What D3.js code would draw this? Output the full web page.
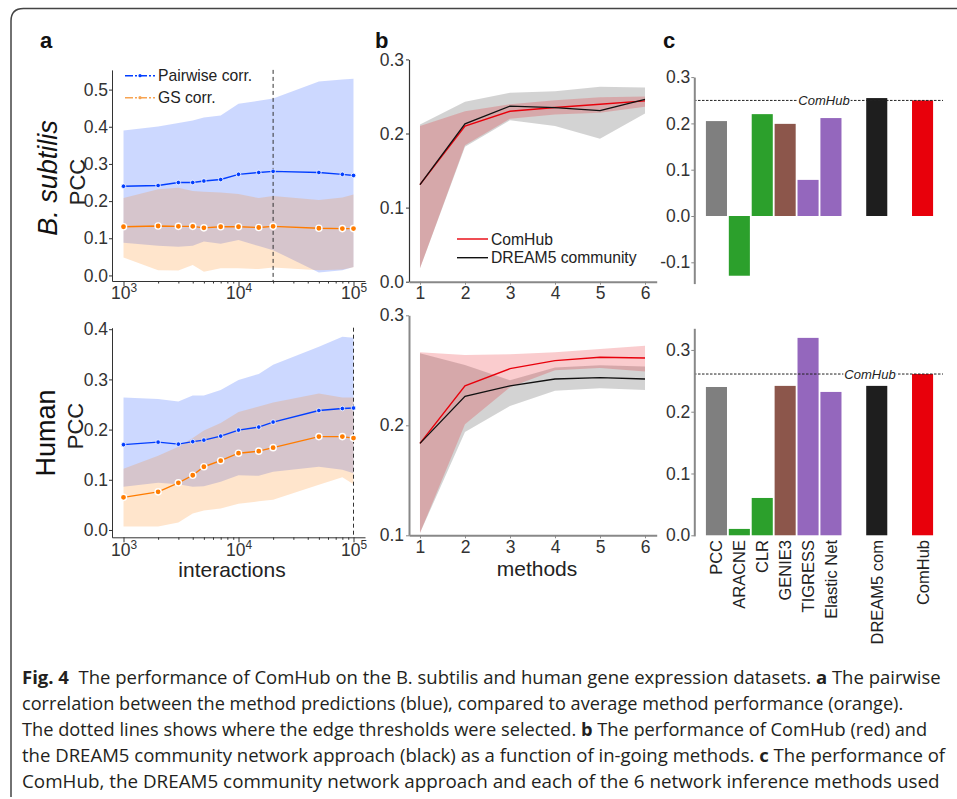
<!DOCTYPE html>
<html>
<head>
<meta charset="utf-8">
<script src="https://cdn.jsdelivr.net/npm/d3@7"></script>
<style>
  body { margin: 0; background: #fff; }
  svg { display: block; font-family: "Liberation Sans", Arial, sans-serif; }
  .tick text { fill: #333; font-size: 17.5px; }
</style>
</head>
<body>
<svg width="957" height="799"></svg>
<script>
// ---- panel a: interactions on a log axis ----
const interactions = [1000, 2000, 3000, 4000, 5000, 7000, 10000, 15000, 20000, 50000, 80000, 100000];

const bsPairwise   = [0.240, 0.242, 0.250, 0.250, 0.254, 0.258, 0.272, 0.277, 0.280, 0.277, 0.272, 0.269];
const bsPairwiseHi = [0.390, 0.401, 0.410, 0.417, 0.425, 0.430, 0.462, 0.470, 0.476, 0.522, 0.527, 0.529];
const bsPairwiseLo = [0.088, 0.080, 0.077, 0.080, 0.091, 0.085, 0.095, 0.079, 0.068, 0.008, 0.014, 0.023];
const bsGS   = [0.131, 0.133, 0.132, 0.132, 0.128, 0.131, 0.131, 0.129, 0.132, 0.127, 0.126, 0.126];
const bsGSHi = [0.208, 0.232, 0.236, 0.227, 0.225, 0.223, 0.219, 0.208, 0.214, 0.203, 0.210, 0.218];
const bsGSLo = [0.048, 0.014, 0.013, 0.028, 0.010, 0.019, 0.019, 0.017, 0.021, 0.014, 0.016, 0.022];

const huPairwise   = [0.170, 0.175, 0.171, 0.176, 0.179, 0.187, 0.199, 0.205, 0.215, 0.238, 0.242, 0.243];
const huPairwiseHi = [0.264, 0.261, 0.256, 0.268, 0.268, 0.279, 0.299, 0.311, 0.329, 0.365, 0.385, 0.383];
const huPairwiseLo = [0.086, 0.094, 0.091, 0.086, 0.087, 0.096, 0.109, 0.108, 0.116, 0.126, 0.120, 0.113];
const huGS   = [0.065, 0.076, 0.094, 0.109, 0.126, 0.138, 0.153, 0.157, 0.164, 0.186, 0.186, 0.183];
const huGSHi = [0.122, 0.148, 0.166, 0.183, 0.198, 0.213, 0.235, 0.246, 0.254, 0.272, 0.264, 0.264];
const huGSLo = [0.007, 0.007, 0.015, 0.033, 0.039, 0.043, 0.052, 0.057, 0.060, 0.090, 0.105, 0.091];

// ---- panel b: number of methods ----
const nMethods = [1, 2, 3, 4, 5, 6];

const bsComHub   = [0.131, 0.210, 0.230, 0.235, 0.2395, 0.244];
const bsComHubHi = [0.210, 0.230, 0.2395, 0.245, 0.249, 0.250];
const bsComHubLo = [0.018, 0.184, 0.220, 0.2255, 0.228, 0.236];
const bsDream   = [0.131, 0.213, 0.237, 0.235, 0.231, 0.246];
const bsDreamHi = [0.212, 0.243, 0.255, 0.257, 0.263, 0.262];
const bsDreamLo = [0.018, 0.182, 0.218, 0.210, 0.193, 0.227];

const huComHub   = [0.1836, 0.2358, 0.2515, 0.2588, 0.2618, 0.2612];
const huComHubHi = [0.2664, 0.2640, 0.2645, 0.2664, 0.2694, 0.2724];
const huComHubLo = [0.102, 0.201, 0.2345, 0.250, 0.252, 0.249];
const huDream   = [0.1836, 0.2264, 0.2358, 0.2421, 0.2433, 0.2421];
const huDreamHi = [0.2655, 0.2548, 0.241, 0.2525, 0.2545, 0.2535];
const huDreamLo = [0.102, 0.194, 0.2176, 0.2315, 0.2336, 0.232];

// ---- panel c: single methods ----
const methodNames = ["PCC", "ARACNE", "CLR", "GENIE3", "TIGRESS", "Elastic Net", "DREAM5 com", "ComHub"];
const methodSlots = [0, 1, 2, 3, 4, 5, 7, 9];
const methodColors = ["#7f7f7f", "#2ca02c", "#2ca02c", "#8c564b", "#9467bd", "#9467bd", "#1e1e1e", "#e8000b"];
const bsScores = [0.205, -0.129, 0.220, 0.199, 0.078, 0.2115, 0.2547, 0.2496];
const huScores = [0.240, 0.0103, 0.0604, 0.2418, 0.3195, 0.232, 0.2418, 0.261];

const blue = "#023eff", orange = "#ff7c00", red = "#e8000b";
const svg = d3.select("svg");
const fmt = d => d3.format(".1f")(d).replace("\u2212", "-");

// figure frame
svg.append("path")
  .attr("d", "M11,797 L11,21 Q11,8.5 23.5,8.5 L957,8.5")
  .attr("fill", "none").attr("stroke", "#444").attr("stroke-width", 1.5);

// panel letters
[["a", 40], ["b", 375], ["c", 663]].forEach(([t, x]) => {
  svg.append("text").attr("x", x).attr("y", 48).text(t)
    .attr("font-size", 22).attr("font-weight", "bold").attr("fill", "#111");
});

function styleAxis(g, color, width) {
  g.select(".domain").attr("stroke", color).attr("stroke-width", width);
  g.selectAll(".tick line").attr("stroke", color);
}

// ================= panel a =================
const xA = d3.scaleLog().domain([Math.pow(10, 2.9), Math.pow(10, 5.1)]).range([112, 365]);
const minorA = [2, 3, 4, 5, 6, 7, 8, 9].flatMap(m => [m * 1e3, m * 1e4]);

function drawPanelA(o) {
  const g = svg.append("g");
  const y = o.y;
  const rows = (mid, lo, hi) => interactions.map((x, i) => ({ x: x, v: mid[i], lo: lo[i], hi: hi[i] }));
  const pair = rows(o.pair, o.pairLo, o.pairHi);
  const gs = rows(o.gs, o.gsLo, o.gsHi);
  const area = d3.area().x(d => xA(d.x)).y0(d => y(d.lo)).y1(d => y(d.hi));
  const line = d3.line().x(d => xA(d.x)).y(d => y(d.v));

  g.append("path").attr("d", area(pair)).attr("fill", blue).attr("fill-opacity", 0.2);
  g.append("path").attr("d", area(gs)).attr("fill", orange).attr("fill-opacity", 0.2);

  g.append("line")
    .attr("x1", xA(o.threshold)).attr("x2", xA(o.threshold))
    .attr("y1", y.range()[1]).attr("y2", y.range()[0])
    .attr("stroke", "#333").attr("stroke-width", 1).attr("stroke-dasharray", "4,3");

  g.append("path").attr("d", line(pair)).attr("fill", "none").attr("stroke", blue).attr("stroke-width", 1.4);
  g.append("path").attr("d", line(gs)).attr("fill", "none").attr("stroke", orange).attr("stroke-width", 1.4);

  g.selectAll(".pdot").data(pair).enter().append("circle")
    .attr("cx", d => xA(d.x)).attr("cy", d => y(d.v)).attr("r", 2.3)
    .attr("fill", blue).attr("stroke", "#fff").attr("stroke-width", 0.8);
  g.selectAll(".gdot").data(gs).enter().append("circle")
    .attr("cx", d => xA(d.x)).attr("cy", d => y(d.v)).attr("r", 3.1)
    .attr("fill", orange).attr("stroke", "#fff").attr("stroke-width", 1.4);

  const yAxis = g.append("g").attr("transform", "translate(112,0)")
    .call(d3.axisLeft(y).tickValues(o.ticks).tickFormat(fmt).tickSize(3).tickPadding(1).tickSizeOuter(0));
  styleAxis(yAxis, "#333", 1);

  const base = y.range()[0];
  const xAxis = g.append("g").attr("transform", `translate(0,${base})`)
    .call(d3.axisBottom(xA).tickValues([1e3, 1e4, 1e5]).tickSize(5).tickPadding(1).tickSizeOuter(0).tickFormat(() => "10"));
  xAxis.selectAll(".tick text").append("tspan")
    .text(d => Math.round(Math.log10(d))).attr("dy", "-0.6em").attr("font-size", "0.68em");
  styleAxis(xAxis, "#333", 1);
  const minor = g.append("g").attr("transform", `translate(0,${base})`)
    .call(d3.axisBottom(xA).tickValues(minorA).tickSize(2.5).tickFormat(""));
  minor.select(".domain").remove();
  minor.selectAll(".tick line").attr("stroke", "#333");

  g.append("text").attr("transform", `translate(${o.nameX},${o.nameY}) rotate(-90)`)
    .attr("text-anchor", "middle").attr("font-size", 27).attr("font-style", o.italic ? "italic" : "normal")
    .attr("fill", "#111").text(o.name);
  g.append("text").attr("transform", `translate(${o.pccX},${o.pccY}) rotate(-90)`)
    .attr("text-anchor", "middle").attr("font-size", 22).attr("fill", "#222").text("PCC");
}

drawPanelA({
  y: d3.scaleLinear().domain([-0.015, 0.553]).range([281, 69.9]),
  ticks: [0, 0.1, 0.2, 0.3, 0.4, 0.5],
  pair: bsPairwise, pairLo: bsPairwiseLo, pairHi: bsPairwiseHi,
  gs: bsGS, gsLo: bsGSLo, gsHi: bsGSHi,
  threshold: 20000,
  name: "B. subtilis", italic: true, nameX: 57, nameY: 178, pccX: 85, pccY: 182
});
drawPanelA({
  y: d3.scaleLinear().domain([-0.0146, 0.403]).range([537.3, 327.7]),
  ticks: [0, 0.1, 0.2, 0.3, 0.4],
  pair: huPairwise, pairLo: huPairwiseLo, pairHi: huPairwiseHi,
  gs: huGS, gsLo: huGSLo, gsHi: huGSHi,
  threshold: 100000,
  name: "Human", italic: false, nameX: 55, nameY: 433, pccX: 83, pccY: 426
});

// legend a
[["Pairwise corr.", blue, 75.7], ["GS corr.", "#f7a452", 97.7]].forEach(([t, c, ly]) => {
  svg.append("line").attr("x1", 125).attr("x2", 155).attr("y1", ly).attr("y2", ly)
    .attr("stroke", c).attr("stroke-width", 1.4).attr("stroke-dasharray", "8,2,2,2");
  svg.append("circle").attr("cx", 140).attr("cy", ly).attr("r", 1.6).attr("fill", c);
  svg.append("text").attr("x", 158).attr("y", ly + 5.5).attr("font-size", 15.7).attr("fill", "#222").text(t);
});

svg.append("text").attr("x", 232).attr("y", 577).attr("text-anchor", "middle")
  .attr("font-size", 21).attr("fill", "#222").text("interactions");

// ================= panel b =================
const xB = d3.scaleLinear().domain([0.756, 6.26]).range([409, 656.7]);

function drawPanelB(o) {
  const g = svg.append("g");
  const y = o.y;
  const rows = (mid, lo, hi) => nMethods.map((m, i) => ({ m: m, v: mid[i], lo: lo[i], hi: hi[i] }));
  const dream = rows(o.dream, o.dreamLo, o.dreamHi);
  const comhub = rows(o.comhub, o.comhubLo, o.comhubHi);
  const area = d3.area().x(d => xB(d.m)).y0(d => y(d.lo)).y1(d => y(d.hi));
  const line = d3.line().x(d => xB(d.m)).y(d => y(d.v));

  g.append("path").attr("d", area(dream)).attr("fill", "#000").attr("fill-opacity", 0.172);
  g.append("path").attr("d", area(comhub)).attr("fill", red).attr("fill-opacity", 0.2);
  g.append("path").attr("d", line(comhub)).attr("fill", "none").attr("stroke", red).attr("stroke-width", 1.4);
  g.append("path").attr("d", line(dream)).attr("fill", "none").attr("stroke", "#111").attr("stroke-width", 1.3);

  const yAxis = g.append("g").attr("transform", "translate(409,0)")
    .call(d3.axisLeft(y).tickValues(o.ticks).tickFormat(fmt).tickSize(3).tickPadding(2).tickSizeOuter(0));
  styleAxis(yAxis, o.yColor, o.yWidth);
  const xAxis = g.append("g").attr("transform", `translate(0,${y.range()[0]})`)
    .call(d3.axisBottom(xB).tickValues(nMethods).tickFormat(d3.format("d")).tickSize(3).tickPadding(2).tickSizeOuter(0));
  styleAxis(xAxis, "#888", 2);
}

drawPanelB({
  y: d3.scaleLinear().domain([0, 0.3]).range([281.7, 59.4]),
  ticks: [0, 0.1, 0.2, 0.3], yColor: "#333", yWidth: 1.2,
  comhub: bsComHub, comhubLo: bsComHubLo, comhubHi: bsComHubHi,
  dream: bsDream, dreamLo: bsDreamLo, dreamHi: bsDreamHi
});
drawPanelB({
  y: d3.scaleLinear().domain([0.1, 0.3]).range([535.3, 315.3]),
  ticks: [0.1, 0.2, 0.3], yColor: "#888", yWidth: 2,
  comhub: huComHub, comhubLo: huComHubLo, comhubHi: huComHubHi,
  dream: huDream, dreamLo: huDreamLo, dreamHi: huDreamHi
});

// legend b
[["ComHub", red, 239], ["DREAM5 community", "#111", 257.7]].forEach(([t, c, ly]) => {
  svg.append("line").attr("x1", 457).attr("x2", 488).attr("y1", ly).attr("y2", ly)
    .attr("stroke", c).attr("stroke-width", 1.4);
  svg.append("text").attr("x", 491).attr("y", ly + 5.5).attr("font-size", 15.7).attr("fill", "#222").text(t);
});

svg.append("text").attr("x", 537).attr("y", 576).attr("text-anchor", "middle")
  .attr("font-size", 21).attr("fill", "#222").text("methods");

// ================= panel c =================
const xC = d3.scaleBand().domain(d3.range(10)).range([705, 934]).paddingInner(0.08).paddingOuter(0.04);

function drawPanelC(o) {
  const g = svg.append("g");
  const y = o.y;
  const rows = methodNames.map((name, i) => ({ name: name, slot: methodSlots[i], v: o.scores[i], c: methodColors[i] }));

  g.selectAll(".bar").data(rows).enter().append("rect")
    .attr("x", d => xC(d.slot)).attr("width", xC.bandwidth())
    .attr("y", d => y(Math.max(0, d.v))).attr("height", d => Math.abs(y(d.v) - y(0)))
    .attr("fill", d => d.c);

  const ref = o.scores[methodNames.indexOf("ComHub")];
  g.append("line").attr("x1", 694).attr("x2", 943).attr("y1", y(ref)).attr("y2", y(ref))
    .attr("stroke", "#222").attr("stroke-width", 1).attr("stroke-dasharray", "2.5,1.5");
  const lab = g.append("text").attr("x", o.labelX).attr("y", y(ref) + 4.6).attr("text-anchor", "middle")
    .attr("font-size", 13).attr("font-style", "italic").attr("fill", "#222").text("ComHub");
  const bb = lab.node().getBBox();
  g.insert("rect", "text").attr("x", bb.x - 1).attr("y", bb.y + 2).attr("width", bb.width + 2)
    .attr("height", bb.height - 4).attr("fill", "#fff");

  const yAxis = g.append("g").attr("transform", "translate(694.3,0)")
    .call(d3.axisLeft(y).tickValues(o.ticks).tickFormat(fmt).tickSize(3).tickPadding(1).tickSizeOuter(0));
  styleAxis(yAxis, "#888", 2);

  if (o.labels) {
    g.selectAll(".xl").data(rows).enter().append("text")
      .attr("transform", d => `translate(${xC(d.slot) + xC.bandwidth() / 2},540) rotate(-90)`)
      .attr("text-anchor", "end").attr("dy", "0.36em").attr("font-size", 16.5).attr("fill", "#222")
      .text(d => d.name);
  }
}

drawPanelC({
  y: d3.scaleLinear().domain([-0.146, 0.3]).range([283.6, 77.1]),
  ticks: [-0.1, 0, 0.1, 0.2, 0.3], scores: bsScores, labelX: 824, labels: false
});
drawPanelC({
  y: d3.scaleLinear().domain([-0.001, 0.335]).range([535.9, 328.3]),
  ticks: [0, 0.1, 0.2, 0.3], scores: huScores, labelX: 870, labels: true
});

// ================= caption =================
const captionLines = [
  [["Fig. 4", true], ["  The performance of ComHub on the B. subtilis and human gene expression datasets. ", false], ["a", true], [" The pairwise", false]],
  [["correlation between the method predictions (blue), compared to average method performance (orange).", false]],
  [["The dotted lines shows where the edge thresholds were selected. ", false], ["b", true], [" The performance of ComHub (red) and", false]],
  [["the DREAM5 community network approach (black) as a function of in-going methods. ", false], ["c", true], [" The performance of", false]],
  [["ComHub, the DREAM5 community network approach and each of the 6 network inference methods used", false]]
];
const captionEnds = [941, 904, 928, 946, 940];

captionLines.forEach((parts, i) => {
  const yb = 684 + i * 26;
  const t = svg.append("text").attr("x", 22).attr("y", yb)
    .attr("font-family", "'Open Sans', sans-serif").attr("font-size", 18).attr("fill", "#231f20")
    .style("white-space", "pre");
  parts.forEach(([s, b]) => t.append("tspan").attr("font-weight", b ? "bold" : "normal").text(s));
  const w = t.node().getComputedTextLength();
  const k = (captionEnds[i] - 22) / w;
  t.attr("transform", `translate(22,0) scale(${k},1) translate(-22,0)`);
});
</script>
</body>
</html>
